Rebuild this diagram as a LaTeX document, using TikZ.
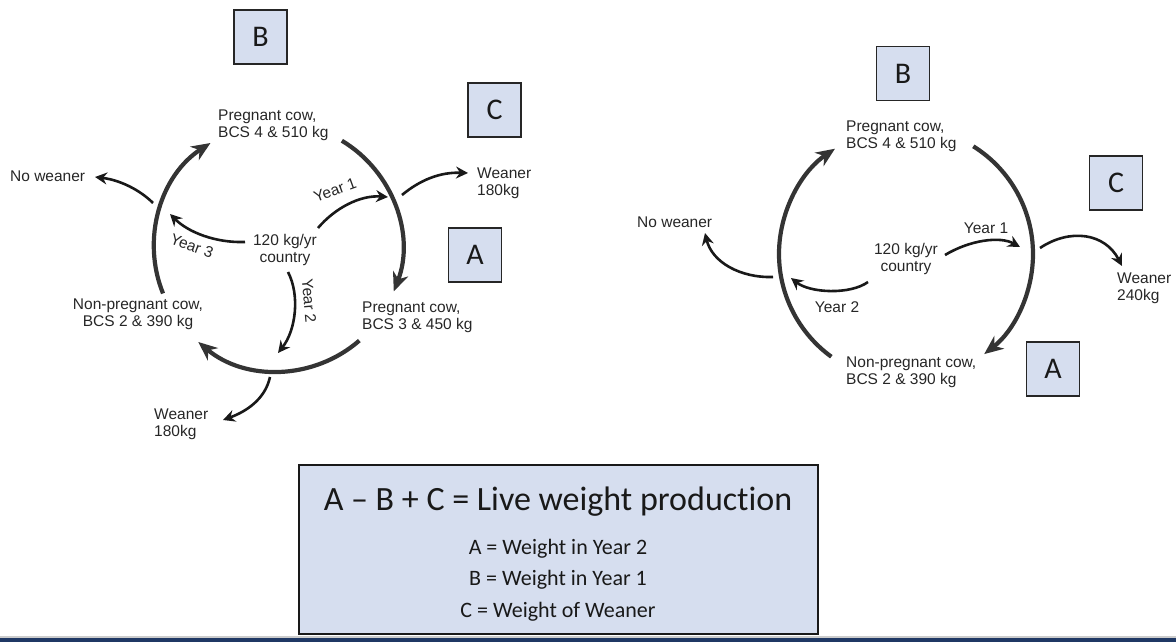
\documentclass[tikz,border=0pt]{standalone}
\usepackage{fontspec}
\setmainfont{Liberation Sans}
\newfontfamily\calib[Ligatures=NoCommon]{Carlito}
\usetikzlibrary{arrows.meta,calc}
\definecolor{boxfill}{RGB}{214,222,239}
\definecolor{arcgray}{RGB}{52,52,52}
\definecolor{txt}{RGB}{38,38,38}
\definecolor{navy}{RGB}{31,56,100}
\begin{document}
\begin{tikzpicture}[x=1pt,y=-1pt,
  lbl/.style={font=\fontsize{15.5}{17}\selectfont, text=txt, inner sep=0pt, align=left},
  lblc/.style={lbl, align=center},
  letterbox/.style={draw=black!85, line width=1.5pt, fill=boxfill, minimum width=53pt, minimum height=54pt, inner sep=0pt, font=\calib\fontsize{30}{30}\selectfont, text=black!90},
  bigarc/.style={draw=arcgray, line width=4.2pt, -{Stealth[length=19pt,width=16pt,inset=6pt]}},
  thinarrow/.style={draw=black!90, line width=2.6pt, -{Stealth[length=12pt,width=12pt,inset=4pt]}},
  legendbox/.style={draw=black!90, line width=2pt, fill=boxfill, minimum width=519pt, minimum height=169pt, inner sep=0pt},
  legtitle/.style={font=\calib\fontsize{34}{36}\selectfont, text=black!90, inner sep=0pt, anchor=base},
  legline/.style={font=\calib\fontsize{22}{24}\selectfont, text=black!90, inner sep=0pt, anchor=base},
]
\useasboundingbox (0,0) rectangle (1176,642);

% ================= LEFT DIAGRAM =================
\node[letterbox] (LB) at (260.5,37) {B};
\node[letterbox] (LC) at (494.5,110) {C};
\node[letterbox] (LA) at (475,255) {A};

\node[lbl, anchor=west] (Ltop) at (218,125) {Pregnant cow,\\BCS 4 \& 510 kg};
\node[lbl, anchor=west] (Lnow) at (10,176) {No weaner};
\node[lbl, anchor=west] (Lw1) at (477,183) {Weaner\\180kg};
\node[lblc] (Lctr) at (285,250) {120 kg/yr\\country};
\node[lblc] (Lnp) at (138,314) {Non-pregnant cow,\\BCS 2 \& 390 kg};
\node[lbl, anchor=west] (Lp3) at (362,317) {Pregnant cow,\\BCS 3 \& 450 kg};
\node[lbl, anchor=west] (Lw2) at (154,424) {Weaner\\180kg};
\node[lbl, rotate=20] (Ly1) at (335,190) {Year 1};
\node[lbl, rotate=-20] (Ly3) at (192,246) {Year 3};
\node[lbl, rotate=-85] (Ly2) at (309,301) {Year 2};

\coordinate (cL) at (278,247);
\coordinate (La1) at ($(cL)+(158:124)$);
\coordinate (La2) at ($(cL)+(301:124)$);
\coordinate (La3) at ($(cL)+(49:124)$);
\draw[bigarc] (La1) arc[start angle=158, end angle=237, radius=124];
\draw[bigarc] (La2) arc[start angle=301, end angle=381, radius=124];
\draw[bigarc] (La3) arc[start angle=49, end angle=130, radius=124];

% thin arrows
\coordinate (Ly1s) at (318,228);  \coordinate (Ly1e) at (388,197);
\draw[thinarrow] (Ly1s) .. controls (335,208) and (360,195) .. (Ly1e);
\coordinate (Ly3s) at (245,242);  \coordinate (Ly3e) at (170,214);
\draw[thinarrow] (Ly3s) .. controls (215,243) and (188,232) .. (Ly3e);
\coordinate (Ly2s) at (288,272);  \coordinate (Ly2e) at (278,353);
\draw[thinarrow] (Ly2s) .. controls (300,295) and (296,330) .. (Ly2e);
\coordinate (Lnws) at (153,203);  \coordinate (Lnwe) at (95,177);
\draw[thinarrow] (Lnws) .. controls (140,190) and (120,180) .. (Lnwe);
\coordinate (Lw1s) at (402,195);  \coordinate (Lw1e) at (468,173);
\draw[thinarrow] (Lw1s) .. controls (420,180) and (440,172) .. (Lw1e);
\coordinate (Lw2s) at (270,377);  \coordinate (Lw2e) at (223,420);
\draw[thinarrow] (Lw2s) .. controls (265,400) and (245,412) .. (Lw2e);

% ================= RIGHT DIAGRAM =================
\node[letterbox] (RB) at (903,73.5) {B};
\node[letterbox] (RC) at (1116,183) {C};
\node[letterbox] (RA) at (1053,369) {A};

\node[lbl, anchor=west] (Rtop) at (846,136) {Pregnant cow,\\BCS 4 \& 510 kg};
\node[lbl, anchor=west] (Rnow) at (637,222) {No weaner};
\node[lblc] (Rctr) at (906,259) {120 kg/yr\\country};
\node[lbl] (Ry1) at (986,228) {Year 1};
\node[lbl] (Ry2) at (837,307) {Year 2};
\node[lbl, anchor=west] (Rw) at (1117,288) {Weaner\\240kg};
\node[lbl, anchor=west] (Rnp) at (846,372) {Non-pregnant cow,\\BCS 2 \& 390 kg};

\coordinate (cR) at (906,254);
\coordinate (Ra1) at ($(cR)+(126:127)$);
\coordinate (Ra2) at ($(cR)+(302:127)$);
\draw[bigarc] (Ra1) arc[start angle=126, end angle=236, radius=127];
\draw[bigarc] (Ra2) arc[start angle=302, end angle=412, radius=127];

\coordinate (Rnws) at (773,277);  \coordinate (Rnwe) at (705,233);
\draw[thinarrow] (Rnws) .. controls (740,278) and (712,262) .. (Rnwe);
\coordinate (Ry2s) at (868,282);  \coordinate (Ry2e) at (791,278);
\draw[thinarrow] (Ry2s) .. controls (850,295) and (810,293) .. (Ry2e);
\coordinate (Ry1s) at (945,255);  \coordinate (Ry1e) at (1020,247);
\draw[thinarrow] (Ry1s) .. controls (970,240) and (1000,236) .. (Ry1e);
\coordinate (Rws) at (1040,248);  \coordinate (Rwe) at (1122,266);
\draw[thinarrow] (Rws) .. controls (1070,228) and (1105,233) .. (Rwe);

% ================= LEGEND =================
\node[legendbox] (leg) at (558.5,549.5) {};
\node[legtitle] (legT) at (558,510) {A – B + C = Live weight production};
\node[legline] (leg1) at (558,554) {A = Weight in Year 2};
\node[legline] (leg2) at (558,585) {B = Weight in Year 1};
\node[legline] (leg3) at (558,617) {C = Weight of Weaner};

% bottom bar
\fill[black!20] (0,636) rectangle (1176,637.5);
\fill[navy] (0,637.5) rectangle (1176,642);
\end{tikzpicture}
\end{document}
